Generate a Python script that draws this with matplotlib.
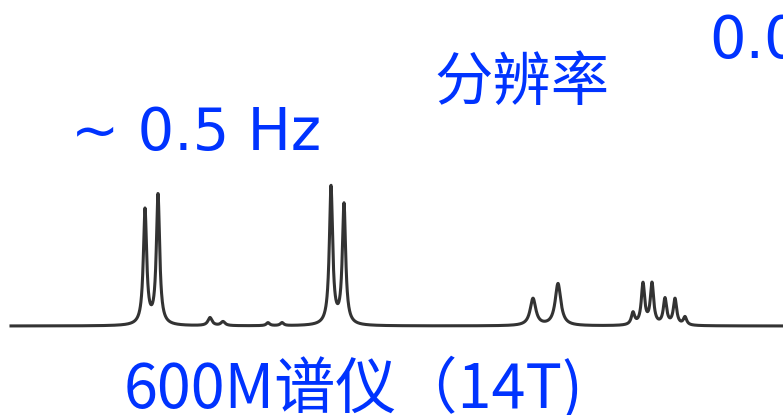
import numpy as np
import matplotlib.pyplot as plt

plt.rcParams['font.family'] = ['Noto Sans CJK SC', 'DejaVu Sans']

# peak list: centre (x position), height, half width
centres = [145, 158, 210, 223, 268, 282, 331, 344, 533, 558,
           633, 643, 652, 665, 675, 685]
heights = [115, 130, 8, 4, 3, 3, 138, 120, 27, 42,
           12, 41, 41, 26, 26, 8]
widths = [2.0, 2.0, 2.5, 2.5, 2.0, 2.0, 2.0, 2.0, 3.4, 3.4,
          2.0, 2.0, 2.0, 2.0, 2.0, 2.0]

x_start, x_end = 11, 783

blue = '#0033FF'

x = np.linspace(x_start, x_end, 4000)
y = np.zeros_like(x)
for c, h, w in zip(centres, heights, widths):
    y += h / (1 + ((x - c) / w) ** 2)

W, H = 783, 415
fig = plt.figure(figsize=(W / 100, H / 100), dpi=100)
ax = fig.add_axes([0, 0, 1, 1])
ax.plot(x, y, color='#333333', lw=2.2, solid_joinstyle='round')
ax.set_xlim(0, W)
ax.set_ylim(-(H - 326), 326)
ax.axis('off')


def label(px, py, s, size, family=None):
    fig.text(px / W, 1 - py / H, s, color=blue, fontsize=size,
             ha='left', va='baseline', family=family)


label(71, 150, '~ 0.5 Hz', 41.5, family=['DejaVu Sans'])
label(434, 100, '分辨率', 42)
label(709, 58, '0.0', 41.5, family=['DejaVu Sans'])
label(124, 408, '600M谱仪（14T)', 44)

fig.savefig('out.png', dpi=100, facecolor='white')
